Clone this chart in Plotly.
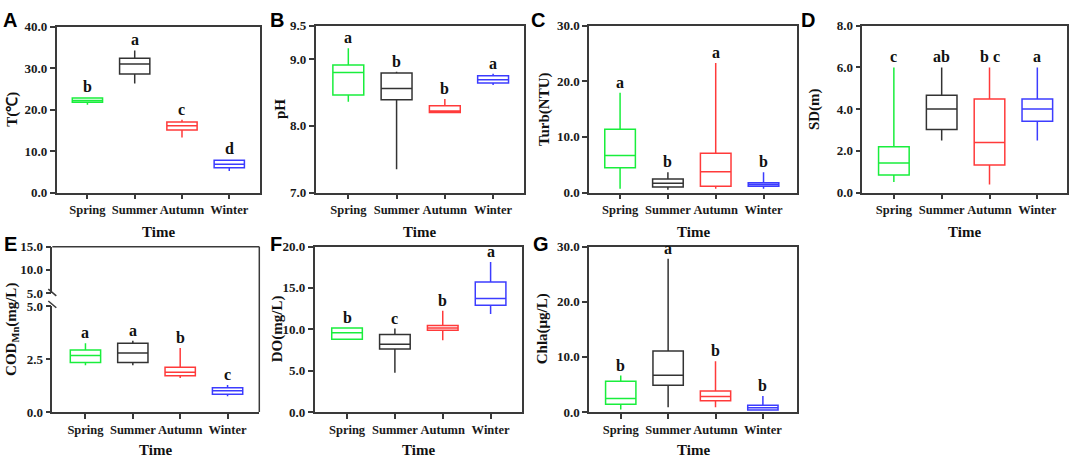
import plotly.graph_objects as go

# ---------------- data ----------------
seasons = ["Spring", "Summer", "Autumn", "Winter"]

temp = {"lo": [21.2, 26.3, 13.3, 5.2], "q1": [21.8, 28.6, 15.1, 6.0],
        "med": [22.2, 31.0, 16.1, 6.8], "q3": [22.8, 32.4, 17.0, 7.8],
        "hi": [23.0, 34.3, 17.6, 8.0]}
temp_letters = ["b", "a", "c", "d"]

ph = {"lo": [8.36, 7.35, 8.20, 8.61], "q1": [8.46, 8.39, 8.20, 8.64],
      "med": [8.80, 8.56, 8.22, 8.69], "q3": [8.91, 8.79, 8.30, 8.75],
      "hi": [9.16, 8.81, 8.40, 8.78]}
ph_letters = ["a", "b", "b", "a"]

turb = {"lo": [0.7, 0.52, 0.7, 0.7], "q1": [4.46, 0.99, 1.11, 1.11],
        "med": [6.67, 1.68, 3.72, 1.46], "q3": [11.4, 2.43, 7.07, 1.74],
        "hi": [17.96, 3.65, 23.3, 3.65]}
turb_letters = ["a", "b", "a", "b"]

sd = {"lo": [0.5, 2.5, 0.39, 2.5], "q1": [0.835, 3.02, 1.32, 3.42],
      "med": [1.41, 4.0, 2.4, 4.0], "q3": [2.2, 4.67, 4.49, 4.49],
      "hi": [6.0, 6.0, 6.0, 6.0]}
sd_letters = ["c", "ab", "b c", "a"]

cod = {"lo": [2.21, 2.21, 1.61, 0.74], "q1": [2.34, 2.34, 1.71, 0.84],
       "med": [2.67, 2.79, 1.88, 1.00], "q3": [2.93, 3.25, 2.11, 1.15],
       "hi": [3.25, 3.36, 3.02, 1.27]}
cod_letters = ["a", "a", "b", "c"]

do = {"lo": [8.79, 4.76, 8.67, 11.84], "q1": [8.79, 7.62, 9.88, 12.9],
      "med": [9.57, 8.2, 10.15, 13.72], "q3": [10.15, 9.38, 10.47, 15.71],
      "hi": [10.15, 10.08, 12.23, 18.12]}
do_letters = ["b", "c", "b", "a"]

chla = {"lo": [0.46, 0.88, 0.88, 0.23], "q1": [1.41, 4.85, 2.04, 0.35],
        "med": [2.46, 6.68, 2.81, 0.76], "q3": [5.56, 11.08, 3.8, 1.23],
        "hi": [6.61, 27.8, 9.2, 2.92]}
chla_letters = ["b", "a", "b", "b"]

# ---------------- styling ----------------
W, H = 1072, 466
COLORS = ["#19EE3C", "#333333", "#FF3A3A", "#3C3CFF"]
AXC = "#3a3a3a"
SERIF = "Liberation Serif"
SANS = "Liberation Sans"


def px(x):
    return x / W


def py(y):
    return 1 - y / H


panels = [
    dict(stats=temp, letters=temp_letters, x="x", y="y", label="A", title="T(℃)",
         l=56.7, r=260, t=20.5, b=191.7, xr=[-0.65, 3.65], yr=[0, 40],
         tv=[0, 10, 20, 30, 40], lx=10, tx=13),
    dict(stats=ph, letters=ph_letters, x="x2", y="y2", label="B", title="pH",
         l=315.5, r=523.5, t=19.3, b=191.7, xr=[-0.68, 3.63], yr=[7, 9.5],
         tv=[7, 8, 9, 9.5], lx=277, tx=280),
    dict(stats=turb, letters=turb_letters, x="x3", y="y3", label="C", title="Turb(NTU)",
         l=589, r=797, t=19.3, b=191.7, xr=[-0.65, 3.70], yr=[0, 30],
         tv=[0, 10, 20, 30], lx=538, tx=544),
    dict(stats=sd, letters=sd_letters, x="x4", y="y4", label="D", title="SD(m)",
         l=862.3, r=1066.5, t=19.3, b=191.7, xr=[-0.66, 3.61], yr=[0, 8],
         tv=[0, 2, 4, 6, 8], lx=808, tx=814),
    dict(stats=cod, letters=cod_letters, x="x5", y="y5", label="E",
         title="COD<sub>Mn</sub>(mg/L)",
         l=52.3, r=259.3, t=309, b=418.5, xr=[-0.70, 3.67], yr=[0, 5],
         tv=[0, 2.5, 5], lx=10, tx=12.5),
    dict(stats=do, letters=do_letters, x="x6", y="y6", label="F", title="DO(mg/L)",
         l=314.5, r=521.7, t=247.5, b=418.5, xr=[-0.68, 3.65], yr=[0, 20],
         tv=[0, 5, 10, 15, 20], lx=276, tx=277),
    dict(stats=chla, letters=chla_letters, x="x7", y="y7", label="G", title="Chla(μg/L)",
         l=589, r=797, t=247.5, b=418.5, xr=[-0.67, 3.72], yr=[0, 30],
         tv=[0, 10, 20, 30], lx=541, tx=542),
]

xtickfont = dict(family=SERIF, size=12.5, color="#1a1a1a", weight="bold")
ytickfont = dict(family=SERIF, size=13, color="#1a1a1a", weight="bold")
axis_common = dict(showline=True, linecolor=AXC, linewidth=1.5, ticks="outside",
                   ticklen=5, tickwidth=1.5, tickcolor=AXC, tickangle=0,
                   showgrid=False, zeroline=False, fixedrange=True)

fig = go.Figure()
layout = dict(width=W, height=H, autosize=False, margin=dict(l=0, r=0, t=0, b=0),
              paper_bgcolor="white", plot_bgcolor="white", showlegend=False,
              boxmode="overlay")
annotations = []
shapes = []

for p in panels:
    st = p["stats"]
    for i, s in enumerate(seasons):
        fig.add_trace(go.Box(
            x=[s], q1=[st["q1"][i]], median=[st["med"][i]], q3=[st["q3"][i]],
            lowerfence=[st["lo"][i]], upperfence=[st["hi"][i]],
            xaxis=p["x"], yaxis=p["y"], width=0.64, whiskerwidth=0,
            line=dict(color=COLORS[i], width=1.5), fillcolor="rgba(0,0,0,0)",
            boxpoints=False, name=s, hoverinfo="skip"))
        annotations.append(dict(
            x=s, y=st["hi"][i], xref=p["x"], yref=p["y"], text=p["letters"][i],
            showarrow=False, xanchor="center", yanchor="bottom", yshift=0,
            font=dict(family=SERIF, size=16, color="#111", weight="bold")))

    is_e = p["label"] == "E"
    xkey = "xaxis" + p["x"][1:]
    ykey = "yaxis" + p["y"][1:]
    layout[xkey] = dict(axis_common, tickfont=xtickfont,
                        domain=[px(p["l"]), px(p["r"])], range=p["xr"],
                        type="category", categoryorder="array", categoryarray=seasons,
                        anchor=p["y"], mirror=not is_e)
    layout[ykey] = dict(axis_common, tickfont=ytickfont,
                        domain=[py(p["b"]), py(p["t"])], range=p["yr"],
                        tickvals=p["tv"], ticktext=["%.1f" % v for v in p["tv"]],
                        anchor=p["x"], mirror=not is_e)

    top = 247.7 if is_e else p["t"]
    # x-axis title
    annotations.append(dict(x=px((p["l"] + p["r"]) / 2),
                            y=py(232 if p["b"] < 300 else 458),
                            xref="paper", yref="paper", text="Time", showarrow=False,
                            xanchor="center", yanchor="middle",
                            font=dict(family=SERIF, size=15, color="#111", weight="bold")))
    # y-axis title
    annotations.append(dict(x=px(p["tx"]), y=py((top + p["b"]) / 2), xref="paper",
                            yref="paper", text=p["title"], textangle=-90,
                            showarrow=False, xanchor="center", yanchor="middle",
                            font=dict(family=SERIF, size=15, color="#111", weight="bold")))
    # panel letter
    annotations.append(dict(x=px(p["lx"]), y=py(13 if p["b"] < 300 else 245),
                            xref="paper", yref="paper", text=p["label"],
                            showarrow=False, xanchor="center", yanchor="middle",
                            font=dict(family=SANS, size=20, color="#000", weight="bold")))

# broken upper segment of panel E
E = panels[4]
layout["yaxis8"] = dict(axis_common, tickfont=ytickfont,
                        domain=[py(295.5), py(247.7)], range=[5, 15],
                        tickvals=[5, 10, 15], ticktext=["5.0", "10.0", "15.0"],
                        anchor="x5", mirror=False)
fig.add_trace(go.Scatter(x=[], y=[], xaxis="x5", yaxis="y8", showlegend=False))
line_style = dict(color=AXC, width=1.5)
shapes.append(dict(type="line", xref="paper", yref="paper", x0=px(E["l"]), x1=px(E["r"]),
                   y0=py(247.7), y1=py(247.7), line=line_style))
shapes.append(dict(type="line", xref="paper", yref="paper", x0=px(E["r"]), x1=px(E["r"]),
                   y0=py(247.7), y1=py(E["b"]), line=line_style))
for yc in (295.0, 307.3):
    shapes.append(dict(type="line", xref="paper", yref="paper",
                       x0=px(E["l"] - 4), x1=px(E["l"] + 4),
                       y0=py(yc - 3.5), y1=py(yc + 3.5), line=line_style))

layout["annotations"] = annotations
layout["shapes"] = shapes
fig.update_layout(**layout)
fig.write_html("out.html", config={"displayModeBar": False},
               post_script="document.body.style.margin='0';"
                           "document.documentElement.style.overflow='hidden';")
